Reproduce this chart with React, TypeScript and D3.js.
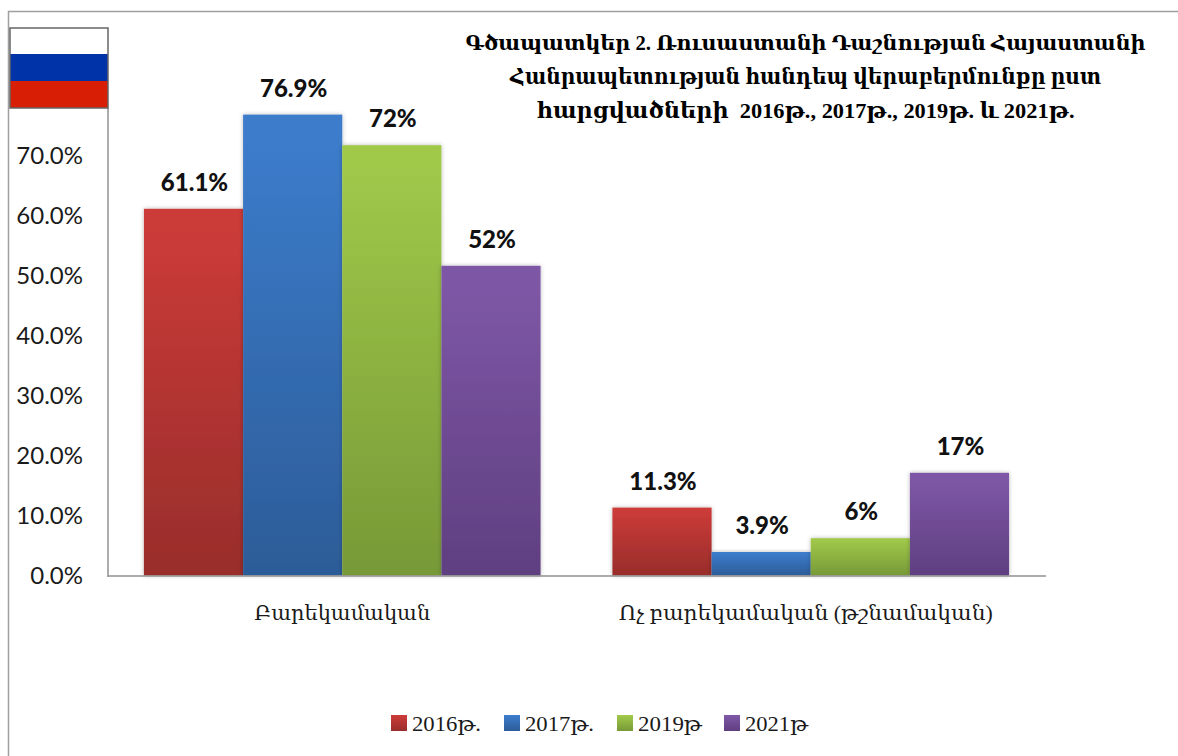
import React from "react";
import * as d3 from "d3";

const categories = ["Բարեկամական", "Ոչ բարեկամական (թշնամական)"];
const seriesNames = ["2016թ.", "2017թ.", "2019թ", "2021թ"];
const values2016 = [61.2, 11.4];
const values2017 = [76.9, 4];
const values2019 = [71.8, 6.3];
const values2021 = [51.7, 17.2];
const seriesValues = [values2016, values2017, values2019, values2021];
const valueLabels = [
  ["61.1%", "11.3%"],
  ["76.9%", "3.9%"],
  ["72%", "6%"],
  ["52%", "17%"],
];
const ticks = [0, 10, 20, 30, 40, 50, 60, 70];
const titleLines = [
  "Գծապատկեր 2. Ռուսաստանի Դաշնության Հայաստանի",
  "Հանրապետության հանդեպ վերաբերմունքը ըստ",
  "հարցվածների  2016թ., 2017թ., 2019թ. և 2021թ.",
];
const gradTop = ["#cb3b38", "#3c7ccb", "#a0c849", "#7e57a6"];
const gradBottom = ["#982d2b", "#2c5c98", "#779937", "#5f3f80"];

const SERIF = "'Liberation Serif', 'DejaVu Serif', serif";
const SANS = "Lato, 'Open Sans', sans-serif";
const titleWidths = [680, 591, 538];
const titleSizes = [21, 22, 22];
const legendX = [391, 504, 617, 724];
const legendTextWidths = [69, 69, 64, 63];
const categoryWidths = [176, 374];
const categoryOffsets = [0, -5];

export default function App() {
  const y = d3.scaleLinear().domain([0, 70]).range([576, 156]);
  const x0 = d3.scaleBand<string>().domain(categories).range([108, 1045]);
  const bw = x0.bandwidth();
  const x1 = d3
    .scaleBand<string>()
    .domain(seriesNames)
    .range([bw * 0.0767, bw * 0.9233]);
  return (
    <svg
      width={1178}
      height={756}
      style={{ position: "absolute", left: 0, top: 0, background: "#fff" }}
    >
      <defs>
        {seriesNames.map((_, i) => (
          <linearGradient key={i} id={`g${i}`} x1="0" x2="0" y1="0" y2="1">
            <stop offset="0.05" stopColor={gradTop[i]} />
            <stop offset="1" stopColor={gradBottom[i]} />
          </linearGradient>
        ))}
        <filter id="sh" x="-10%" y="-10%" width="120%" height="120%">
          <feDropShadow dx="0" dy="0" stdDeviation="2" floodColor="#000" floodOpacity="0.28" />
        </filter>
      </defs>
      <path d="M8.5,756V11.5H1178" fill="none" stroke="#a0a0a0" strokeWidth={1.5} />

      {ticks.map((t) => (
        <text
          key={t}
          x={83}
          y={y(t)}
          dy="0.35em"
          textAnchor="end"
          fontFamily={SANS}
          fontSize={24}
          fill="#1a1a1a"
        >
          {t.toFixed(1)}%
        </text>
      ))}
      <line x1={108} x2={108} y1={108} y2={577} stroke="#909090" strokeWidth={1.5} />

      {seriesNames.map((s, i) => (
        <g key={s}>
          {categories.map((c, j) => (
            <rect
              key={c}
              x={(x0(c) as number) + (x1(s) as number)}
              y={y(seriesValues[i][j])}
              width={x1.bandwidth()}
              height={575.5 - y(seriesValues[i][j])}
              fill={`url(#g${i})`}
              filter="url(#sh)"
            />
          ))}
        </g>
      ))}
      <line x1={108} x2={1046} y1={576} y2={576} stroke="#909090" strokeWidth={1.5} />

      {seriesNames.map((s, i) =>
        categories.map((c, j) => (
          <text
            key={s + c}
            x={(x0(c) as number) + (x1(s) as number) + x1.bandwidth() / 2 + 1}
            y={y(seriesValues[i][j]) - 18}
            textAnchor="middle"
            fontFamily={SANS}
            fontSize={24}
            fontWeight={900}
            fill="#111"
          >
            {valueLabels[i][j]}
          </text>
        ))
      )}

      {categories.map((c, i) => (
        <text
          key={c}
          x={(x0(c) as number) + bw / 2 + categoryOffsets[i]}
          y={620}
          textAnchor="middle"
          textLength={categoryWidths[i]}
          lengthAdjust="spacingAndGlyphs"
          fontFamily={SERIF}
          fontSize={21}
          fill="#1a1a1a"
        >
          {c}
        </text>
      ))}

      {titleLines.map((l, i) => (
        <text
          key={i}
          x={805.5}
          y={50 + i * 34}
          textAnchor="middle"
          textLength={titleWidths[i]}
          lengthAdjust="spacingAndGlyphs"
          style={{ whiteSpace: "pre" }}
          fontFamily={SERIF}
          fontSize={titleSizes[i]}
          fontWeight={700}
          fill="#000"
        >
          {l}
        </text>
      ))}

      {seriesNames.map((s, i) => (
        <g key={s}>
          <rect x={legendX[i]} y={715} width={16} height={16} fill={`url(#g${i})`} />
          <text
            x={legendX[i] + 21}
            y={731}
            textLength={legendTextWidths[i]}
            lengthAdjust="spacingAndGlyphs"
            fontFamily={SERIF}
            fontSize={21}
            fill="#1a1a1a"
          >
            {s}
          </text>
        </g>
      ))}

      <rect x={10} y={28} width={98} height={26} fill="#fff" />
      <rect x={10} y={54} width={98} height={27} fill="#0033a8" />
      <rect x={10} y={81} width={98} height={27} fill="#d81e05" />
      <rect x={10} y={28} width={98} height={80} fill="none" stroke="#666" strokeWidth={1.5} />
    </svg>
  );
}
